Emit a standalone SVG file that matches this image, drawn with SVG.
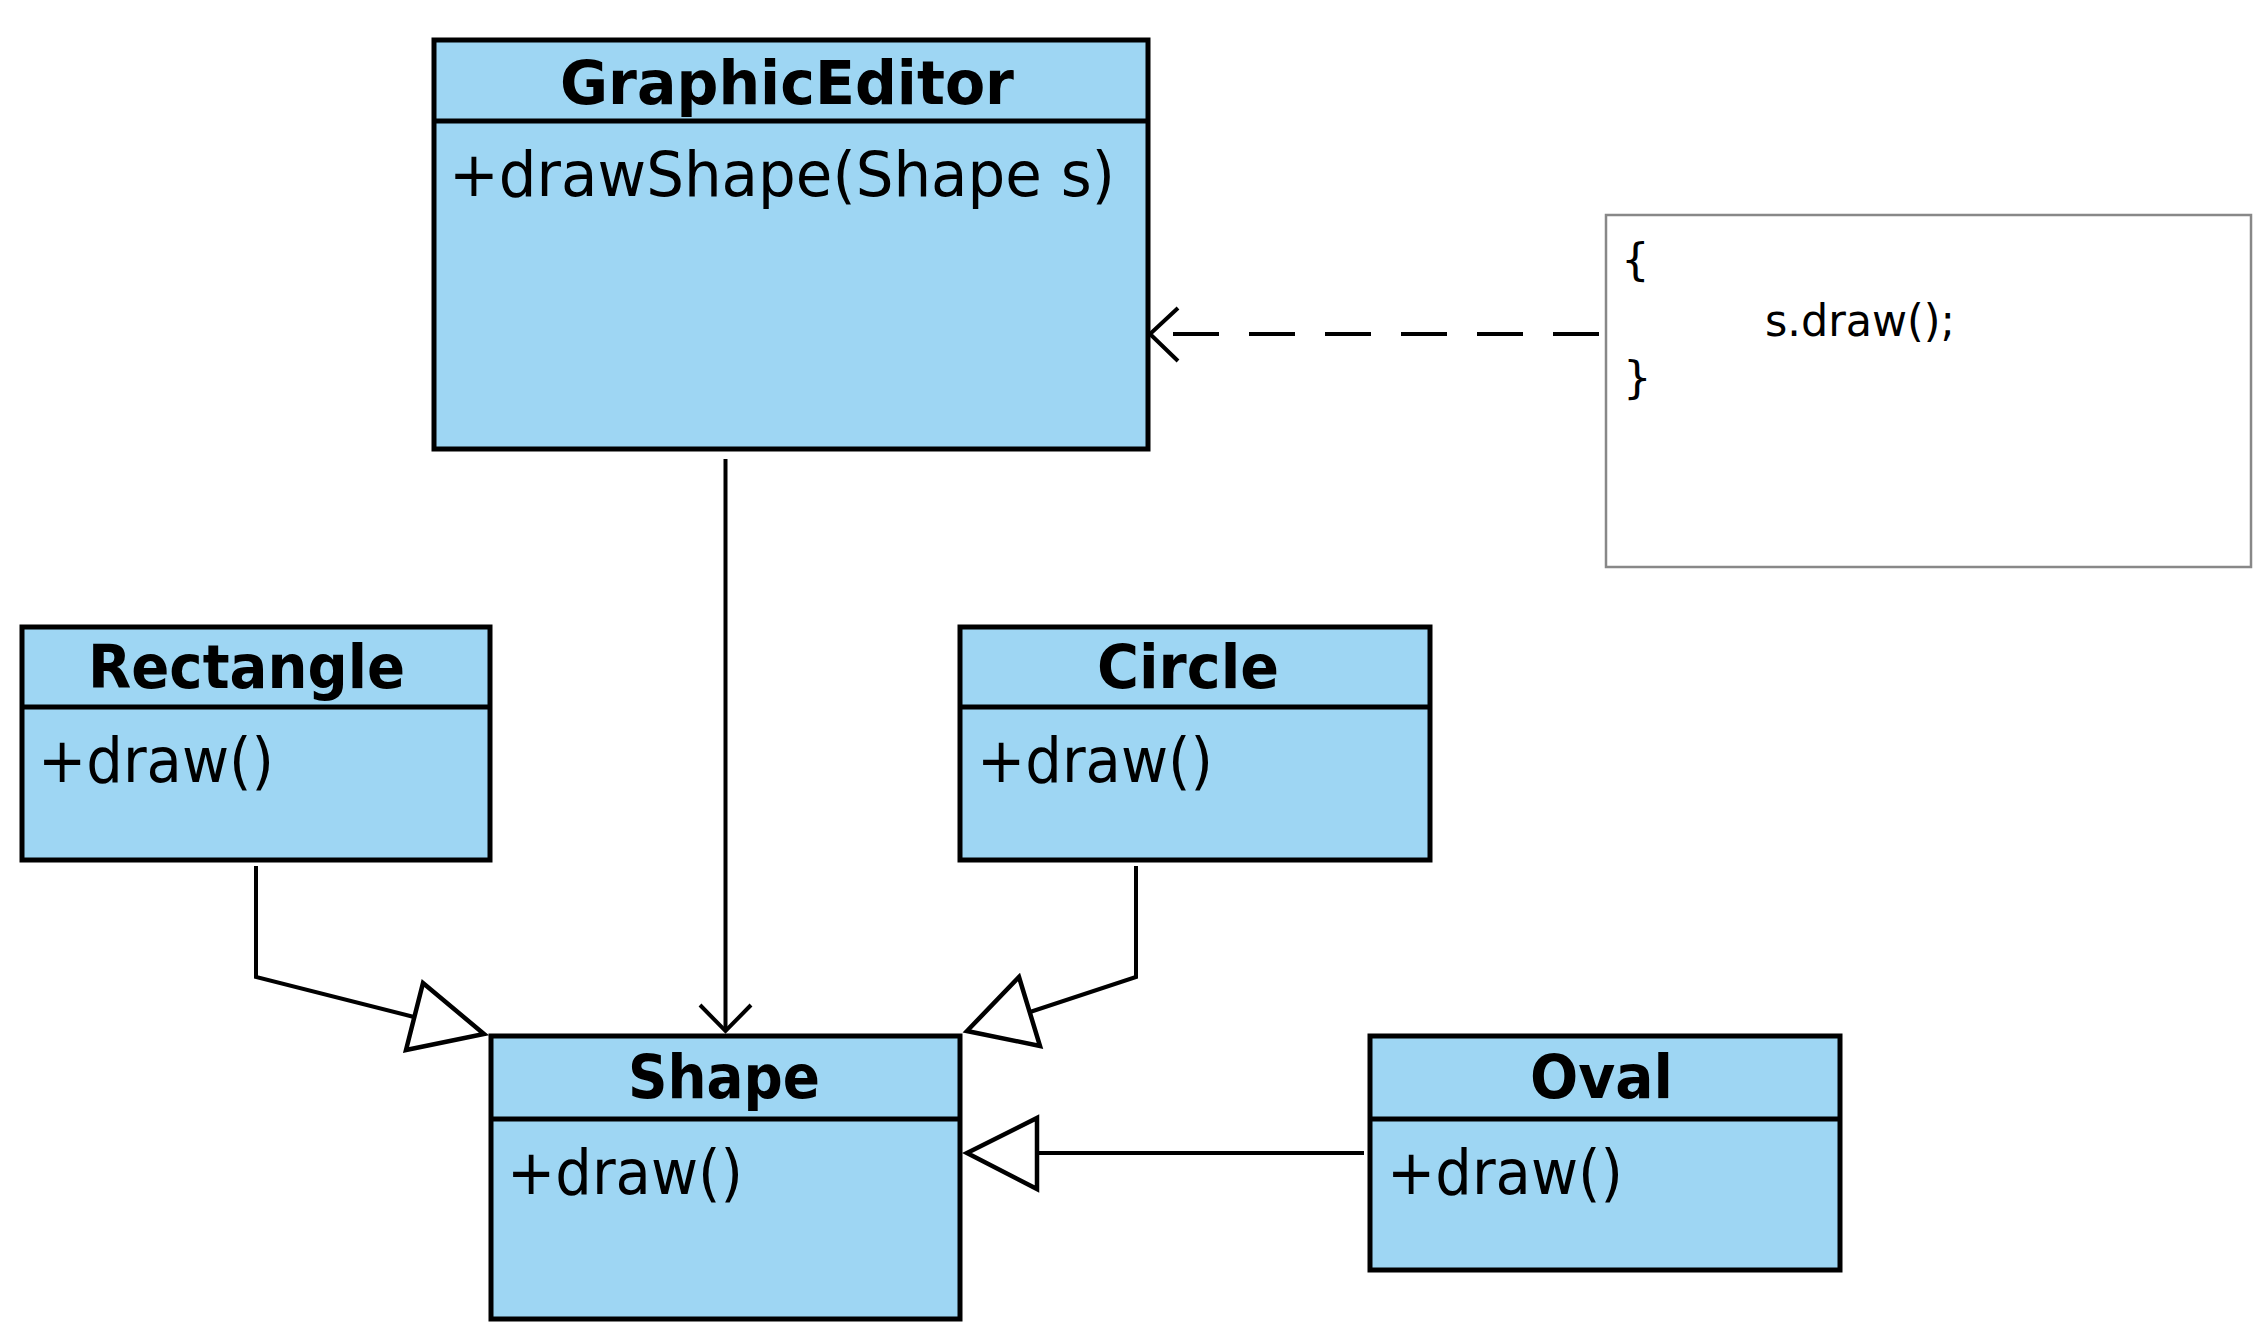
<svg xmlns="http://www.w3.org/2000/svg" width="2264" height="1340" viewBox="0 0 2264 1340">
<style>
.box{fill:#9ED6F3;stroke:#000;stroke-width:5;}
.div{stroke:#000;stroke-width:5;fill:none;}
.title{font-family:"DejaVu Sans","Liberation Sans",sans-serif;font-weight:bold;font-size:61px;fill:#000;}
.mem{font-family:"DejaVu Sans","Liberation Sans",sans-serif;font-size:62px;fill:#000;}
.note{fill:#fff;stroke:#888;stroke-width:2.5;}
.ntxt{font-family:"DejaVu Sans","Liberation Sans",sans-serif;font-size:45px;fill:#000;}
.ln{stroke:#000;stroke-width:4;fill:none;stroke-linejoin:miter;}
.tri{stroke:#000;stroke-width:4.5;fill:#fff;stroke-linejoin:miter;}
</style>
<rect width="2264" height="1340" fill="#fff"/>
<g id="GraphicEditor">
<rect class="box" x="434" y="40" width="714" height="409"/>
<line class="div" x1="434" y1="121" x2="1148" y2="121"/>
<text class="title" x="560" y="104" textLength="454" lengthAdjust="spacingAndGlyphs">GraphicEditor</text>
<text class="mem" x="449" y="196" textLength="666" lengthAdjust="spacingAndGlyphs">+drawShape(Shape s)</text>
</g>
<g id="Note">
<rect class="note" x="1606" y="215" width="645" height="352"/>
<text class="ntxt" x="1621" y="275" font-size="49">{</text>
<text class="ntxt" x="1765" y="336" textLength="190" lengthAdjust="spacingAndGlyphs">s.draw();</text>
<text class="ntxt" x="1623" y="393" font-size="49">}</text>
</g>
<g id="Rectangle">
<rect class="box" x="22" y="627" width="468" height="233"/>
<line class="div" x1="22" y1="707" x2="490" y2="707"/>
<text class="title" x="88" y="688" textLength="317" lengthAdjust="spacingAndGlyphs">Rectangle</text>
<text class="mem" x="38" y="782" textLength="236" lengthAdjust="spacingAndGlyphs">+draw()</text>
</g>
<g id="Circle">
<rect class="box" x="960" y="627" width="470" height="233"/>
<line class="div" x1="960" y1="707" x2="1430" y2="707"/>
<text class="title" x="1097" y="688" textLength="182" lengthAdjust="spacingAndGlyphs">Circle</text>
<text class="mem" x="977" y="782" textLength="236" lengthAdjust="spacingAndGlyphs">+draw()</text>
</g>
<g id="Shape">
<rect class="box" x="491" y="1036" width="469" height="283"/>
<line class="div" x1="491" y1="1119" x2="960" y2="1119"/>
<text class="title" x="628" y="1098" textLength="192" lengthAdjust="spacingAndGlyphs">Shape</text>
<text class="mem" x="507" y="1194" textLength="236" lengthAdjust="spacingAndGlyphs">+draw()</text>
</g>
<g id="Oval">
<rect class="box" x="1370" y="1036" width="470" height="234"/>
<line class="div" x1="1370" y1="1119" x2="1840" y2="1119"/>
<text class="title" x="1530" y="1098" textLength="143" lengthAdjust="spacingAndGlyphs">Oval</text>
<text class="mem" x="1387" y="1194" textLength="236" lengthAdjust="spacingAndGlyphs">+draw()</text>
</g>
<g id="connectors">
<line class="ln" x1="725.5" y1="459" x2="725.5" y2="1031"/>
<polyline class="ln" points="700,1005 725.5,1031 751,1005"/>
<line class="ln" x1="1599" y1="334" x2="1152" y2="334" stroke-width="5" stroke-dasharray="46 30"/>
<polyline class="ln" points="1178,308 1150,334 1178,361"/>
<polyline class="ln" points="256,866 256,977 414,1017"/>
<polygon class="tri" points="423,983 406,1050 484,1034"/>
<polyline class="ln" points="1136,866 1136,977 1030,1012"/>
<polygon class="tri" points="1019,977 1040,1046 967,1031"/>
<line class="ln" x1="1364" y1="1153" x2="1037" y2="1153"/>
<polygon class="tri" points="1037,1118 1037,1189 967,1153"/>
</g>
</svg>
